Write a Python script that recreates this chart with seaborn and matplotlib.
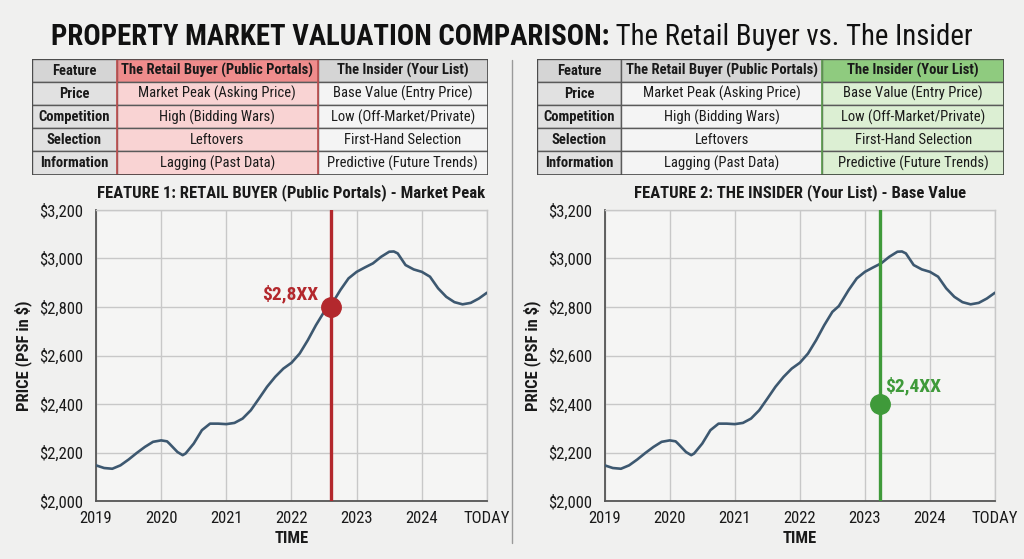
import numpy as np
import pandas as pd
import matplotlib
matplotlib.use("Agg")
import matplotlib.pyplot as plt
from matplotlib.patches import Rectangle
from matplotlib.ticker import FuncFormatter, FixedLocator
import seaborn as sns

# ---------------- data ----------------
years = [2019.0, 2019.125, 2019.25, 2019.375, 2019.5, 2019.625, 2019.75, 2019.875,
         2020.0, 2020.09, 2020.125, 2020.25, 2020.33, 2020.375, 2020.5, 2020.625,
         2020.75, 2020.875, 2021.0, 2021.125, 2021.25, 2021.375, 2021.5, 2021.625,
         2021.75, 2021.875, 2022.0, 2022.125, 2022.25, 2022.375, 2022.5, 2022.6,
         2022.75, 2022.875, 2023.0, 2023.125, 2023.25, 2023.375, 2023.5, 2023.57,
         2023.63, 2023.75, 2023.875, 2024.0, 2024.125, 2024.25, 2024.375, 2024.5,
         2024.625, 2024.75, 2024.875, 2025.0]
price = [2147, 2136, 2133, 2147, 2171, 2198, 2223, 2244,
         2250, 2246, 2237, 2202, 2189, 2196, 2237, 2292,
         2319, 2319, 2317, 2322, 2340, 2374, 2422, 2471,
         2512, 2546, 2570, 2608, 2663, 2725, 2780, 2804,
         2870, 2918, 2945, 2963, 2980, 3007, 3028, 3029,
         3021, 2973, 2955, 2945, 2925, 2877, 2842, 2820,
         2811, 2817, 2835, 2859]

tick_pos = [2019, 2020, 2021, 2022, 2023, 2024, 2025]
tick_labels = ["2019", "2020", "2021", "2022", "2023", "2024", "TODAY"]
y_ticks = [2000, 2200, 2400, 2600, 2800, 3000, 3200]

table_header = ["Feature", "The Retail Buyer (Public Portals)", "The Insider (Your List)"]
table_rows = [
    ["Price", "Market Peak (Asking Price)", "Base Value (Entry Price)"],
    ["Competition", "High (Bidding Wars)", "Low (Off-Market/Private)"],
    ["Selection", "Leftovers", "First-Hand Selection"],
    ["Information", "Lagging (Past Data)", "Predictive (Future Trends)"],
]

retail_x, retail_y, retail_label = 2022.6, 2800, "$2,8XX"
insider_x, insider_y, insider_label = 2023.23, 2400, "$2,4XX"

# ---------------- style ----------------
sns.set_theme(style="whitegrid")
FAM = ["Roboto Condensed", "Roboto", "DejaVu Sans"]
plt.rcParams["font.family"] = FAM

BG = "#f0f0ef"
LINE = "#3d5870"
RED = "#b3282d"
GREEN = "#3f9a3a"

W, H = 1024, 559
fig = plt.figure(figsize=(W / 100, H / 100), dpi=100, facecolor=BG)

def fx(px):
    return px / W

def fy(py):
    return 1 - py / H

# ---------------- title ----------------
t1 = fig.text(0, fy(37), "PROPERTY MARKET VALUATION COMPARISON:", fontsize=18,
              fontweight="bold", va="center", ha="left", color="#111111")
t2 = fig.text(0, fy(37), " The Retail Buyer vs. The Insider", fontsize=18,
              va="center", ha="left", color="#111111")
fig.canvas.draw()
r = fig.canvas.get_renderer()
w1 = t1.get_window_extent(r).width
w2 = t2.get_window_extent(r).width
scale = 923 / (w1 + w2)
t1.set_fontsize(18 * scale)
t2.set_fontsize(18 * scale)
fig.canvas.draw()
w1 = t1.get_window_extent(r).width
w2 = t2.get_window_extent(r).width
x0 = 512 - (w1 + w2) / 2
t1.set_x(fx(x0))
t2.set_x(fx(x0 + w1))

# ---------------- divider ----------------
fig.add_artist(plt.Line2D([fx(512), fx(512)], [fy(60), fy(543)], color="#9a9a9a", lw=1))

# ---------------- tables ----------------
def draw_table(left, right, top, bottom, col_px, hl, hl_head, hl_body, hl_edge):
    ax = fig.add_axes([fx(left), fy(bottom), fx(right - left), (bottom - top) / H])
    ax.set_xlim(left, right)
    ax.set_ylim(bottom, top)
    ax.axis("off")
    nrows = 1 + len(table_rows)
    rh = (bottom - top) / nrows
    xs = [left]
    for c in col_px:
        xs.append(xs[-1] + c)
    xs[-1] = right
    rows = [table_header] + table_rows
    for i, row in enumerate(rows):
        for j, txt in enumerate(row):
            y0 = top + i * rh
            if j == hl:
                fc = hl_head if i == 0 else hl_body
            elif i == 0:
                fc = "#d5d5d5"
            elif j == 0:
                fc = "#e1e1e1"
            else:
                fc = "#f4f4f4"
            ax.add_patch(Rectangle((xs[j], y0), xs[j + 1] - xs[j], rh, facecolor=fc,
                                   edgecolor="#5a5a5a", lw=1.0))
            bold = (i == 0) or (j == 0)
            ax.text((xs[j] + xs[j + 1]) / 2, y0 + rh / 2 + 0.5, txt, ha="center",
                    va="center", fontsize=10.5, fontweight="bold" if bold else "normal",
                    color="#1a1a1a")
    ax.add_patch(Rectangle((xs[hl], top), xs[hl + 1] - xs[hl], bottom - top,
                           facecolor="none", edgecolor=hl_edge, lw=1.2))
    ax.add_patch(Rectangle((left, top), right - left, bottom - top,
                           facecolor="none", edgecolor="#4a4a4a", lw=1.2))

draw_table(31.7, 487.7, 58.5, 174.5, [85, 201, 170], 1, "#ef8c8c", "#f9d3d3", "#c25050")
draw_table(536.7, 1004, 58.5, 174.5, [84.6, 201, 181.7], 2, "#8fcb7f", "#dcefd3", "#5d9e4e")

# ---------------- charts ----------------
df = pd.DataFrame({"year": years, "price": price})

def draw_chart(left, right, title, vx, vy, vcol, label, lab_off, lab_ha):
    ax = fig.add_axes([fx(left), fy(501), fx(right - left), (501 - 210) / H])
    ax.set_facecolor("#f5f5f4")
    sns.lineplot(data=df, x="year", y="price", ax=ax, color=LINE, lw=1.9, zorder=3)
    ax.set_xlim(2019, 2025)
    ax.set_ylim(2000, 3200)
    ax.xaxis.set_major_locator(FixedLocator(tick_pos))
    ax.set_xticklabels(tick_labels)
    ax.yaxis.set_major_locator(FixedLocator(y_ticks))
    ax.yaxis.set_major_formatter(FuncFormatter(lambda v, p: f"${v:,.0f}"))
    ax.grid(True, color="#c8c8c8", lw=1.0)
    for s in ["top", "right"]:
        ax.spines[s].set_color("#c8c8c8")
        ax.spines[s].set_linewidth(1.0)
    for s in ["left", "bottom"]:
        ax.spines[s].set_color("#555555")
        ax.spines[s].set_linewidth(1.3)
    ax.tick_params(axis="both", labelsize=12, colors="#1a1a1a", length=0)
    ax.tick_params(axis="y", pad=9)
    ax.tick_params(axis="x", pad=7)
    ax.set_xlabel("TIME", fontsize=12, fontweight="bold", color="#1a1a1a", labelpad=4)
    ax.set_ylabel("PRICE (PSF in $)", fontsize=12, fontweight="bold", color="#1a1a1a",
                  labelpad=5)
    ax.set_title(title, fontsize=12, fontweight="bold", color="#1a1a1a", pad=9)
    ax.axvline(vx, color=vcol, lw=2.4, zorder=4)
    ax.plot([vx], [vy], "o", color=vcol, markersize=14, zorder=5)
    ax.annotate(label, (vx, vy), xytext=lab_off, textcoords="offset points",
                ha=lab_ha, va="center", fontsize=14, fontweight="bold", color=vcol,
                zorder=6)
    return ax

draw_chart(96, 487, "FEATURE 1: RETAIL BUYER (Public Portals) - Market Peak",
           retail_x, retail_y, RED, retail_label, (-9, 9), "right")
draw_chart(604.7, 995, "FEATURE 2: THE INSIDER (Your List) - Base Value",
           insider_x, insider_y, GREEN, insider_label, (4, 13), "left")

fig.savefig("out.png", dpi=100, facecolor=BG)
